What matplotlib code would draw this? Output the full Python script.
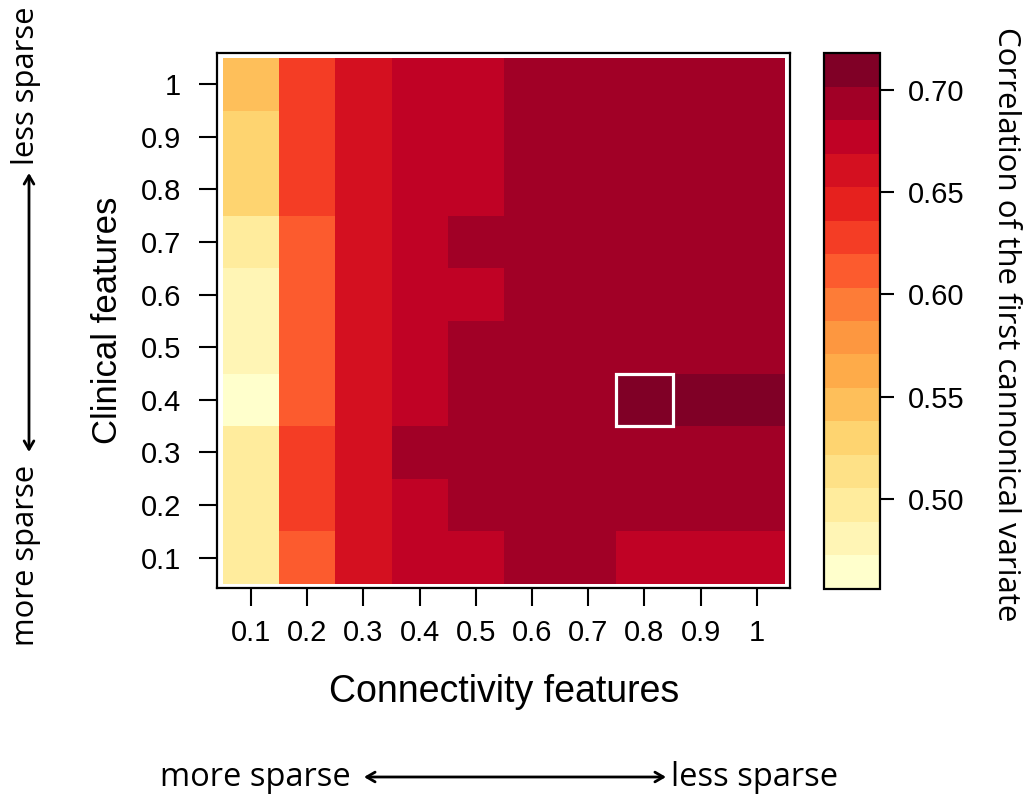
import numpy as np
import matplotlib
matplotlib.use("Agg")
import matplotlib.pyplot as plt
from matplotlib.colors import Normalize
from matplotlib.patches import Rectangle, FancyArrowPatch

# ---------------- data ----------------
connectivity = [0.1, 0.2, 0.3, 0.4, 0.5, 0.6, 0.7, 0.8, 0.9, 1.0]
clinical = [0.1, 0.2, 0.3, 0.4, 0.5, 0.6, 0.7, 0.8, 0.9, 1.0]
tick_labels = ["0.1", "0.2", "0.3", "0.4", "0.5", "0.6", "0.7", "0.8", "0.9", "1"]

# rows: clinical 0.1 .. 1 ; columns: connectivity 0.1 .. 1
corr_c01 = [0.498, 0.612, 0.661, 0.677, 0.679, 0.693, 0.692, 0.681, 0.679, 0.678]
corr_c02 = [0.497, 0.627, 0.660, 0.678, 0.689, 0.696, 0.695, 0.697, 0.696, 0.695]
corr_c03 = [0.496, 0.629, 0.662, 0.690, 0.692, 0.697, 0.698, 0.699, 0.698, 0.697]
corr_c04 = [0.456, 0.611, 0.661, 0.680, 0.691, 0.697, 0.699, 0.718, 0.712, 0.709]
corr_c05 = [0.480, 0.610, 0.660, 0.681, 0.690, 0.696, 0.698, 0.699, 0.698, 0.697]
corr_c06 = [0.482, 0.613, 0.662, 0.683, 0.684, 0.695, 0.697, 0.698, 0.697, 0.696]
corr_c07 = [0.495, 0.615, 0.663, 0.684, 0.688, 0.695, 0.696, 0.697, 0.696, 0.695]
corr_c08 = [0.530, 0.628, 0.664, 0.682, 0.683, 0.694, 0.695, 0.696, 0.695, 0.694]
corr_c09 = [0.532, 0.630, 0.663, 0.681, 0.682, 0.693, 0.694, 0.695, 0.694, 0.693]
corr_c10 = [0.546, 0.631, 0.664, 0.680, 0.681, 0.692, 0.693, 0.694, 0.693, 0.692]

cbar_ticks = [0.50, 0.55, 0.60, 0.65, 0.70]
cbar_tick_labels = ["0.50", "0.55", "0.60", "0.65", "0.70"]

Z = np.array([corr_c01, corr_c02, corr_c03, corr_c04, corr_c05,
              corr_c06, corr_c07, corr_c08, corr_c09, corr_c10])
X = np.array(connectivity)
Y = np.array(clinical)

# ---------------- figure ----------------
W, H = 1028, 796
fig = plt.figure(figsize=(W / 100, H / 100), dpi=100)
MAIN = ["Liberation Sans", "DejaVu Sans"]
HUM = ["Open Sans", "DejaVu Sans"]

def fx(px):
    return px / W

def fy(py):
    return 1 - py / H

ax = fig.add_axes([fx(217.3), fy(588), fx(790) - fx(217.3), fy(53.3) - fy(588)])

cmap = plt.get_cmap("YlOrRd", 16)
norm = Normalize(vmin=Z.min(), vmax=Z.max())
ax.pcolormesh(X, Y, Z, cmap=cmap, norm=norm, shading="nearest")

# highlight best cell
iy, ix = np.unravel_index(np.argmax(Z), Z.shape)
ax.add_patch(Rectangle((X[ix] - 0.05, Y[iy] - 0.05), 0.1, 0.1, fill=False,
                       ec="white", lw=2.3, zorder=5))

ax.set_xlim(0.05 - 0.0101, 1.05 + 0.009)
ax.set_ylim(0.05 - 0.0078, 1.05 + 0.009)
for s in ax.spines.values():
    s.set_linewidth(1.6)
ax.set_xticks(X)
ax.set_xticklabels(tick_labels, fontsize=21, family=MAIN)
ax.set_yticks(Y)
ax.set_yticklabels(tick_labels, fontsize=21, family=MAIN)
ax.tick_params(axis="both", length=13, width=1.5, direction="out")
ax.tick_params(axis="x", pad=9)
ax.tick_params(axis="y", pad=13)

ax.set_xlabel("Connectivity features", fontsize=27, family=MAIN, labelpad=20)
ax.set_ylabel("Clinical features", fontsize=25, family=MAIN, labelpad=12)

# colorbar
cax = fig.add_axes([fx(824.3), fy(588.7), fx(880) - fx(824.3), fy(53.3) - fy(588.7)])
sm = plt.cm.ScalarMappable(norm=norm, cmap=cmap)
cb = fig.colorbar(sm, cax=cax)
cb.outline.set_linewidth(1.6)
cb.set_ticks(cbar_ticks)
cb.set_ticklabels(cbar_tick_labels)
cax.tick_params(labelsize=21, length=10, width=1.5, pad=10)
for t in cax.get_yticklabels():
    t.set_family(MAIN)
fig.text(fx(1006), fy(324), "Correlation of the first cannonical variate",
         rotation=-90, ha="center", va="center", fontsize=22.5, family=HUM)

# sparsity annotations (bottom)
fig.text(fx(160), fy(778), "more sparse", ha="left", va="center", fontsize=23.5, family=HUM)
fig.text(fx(838), fy(778), "less sparse", ha="right", va="center", fontsize=23.5, family=HUM)
fig.add_artist(FancyArrowPatch(
    (fx(364), fy(777)), (fx(666), fy(777)), transform=fig.transFigure,
    arrowstyle="<->,head_length=6,head_width=3.5", lw=2, color="black",
    shrinkA=0, shrinkB=0))

# sparsity annotations (left)
fig.text(fx(26), fy(86), "less sparse", ha="center", va="center", rotation=90,
         fontsize=22.3, family=HUM)
fig.text(fx(26), fy(555), "more sparse", ha="center", va="center", rotation=90,
         fontsize=22.3, family=HUM)
fig.add_artist(FancyArrowPatch(
    (fx(29), fy(452)), (fx(29), fy(173)), transform=fig.transFigure,
    arrowstyle="<->,head_length=6,head_width=3.5", lw=2, color="black",
    shrinkA=0, shrinkB=0))

fig.savefig("out.png", dpi=100)
